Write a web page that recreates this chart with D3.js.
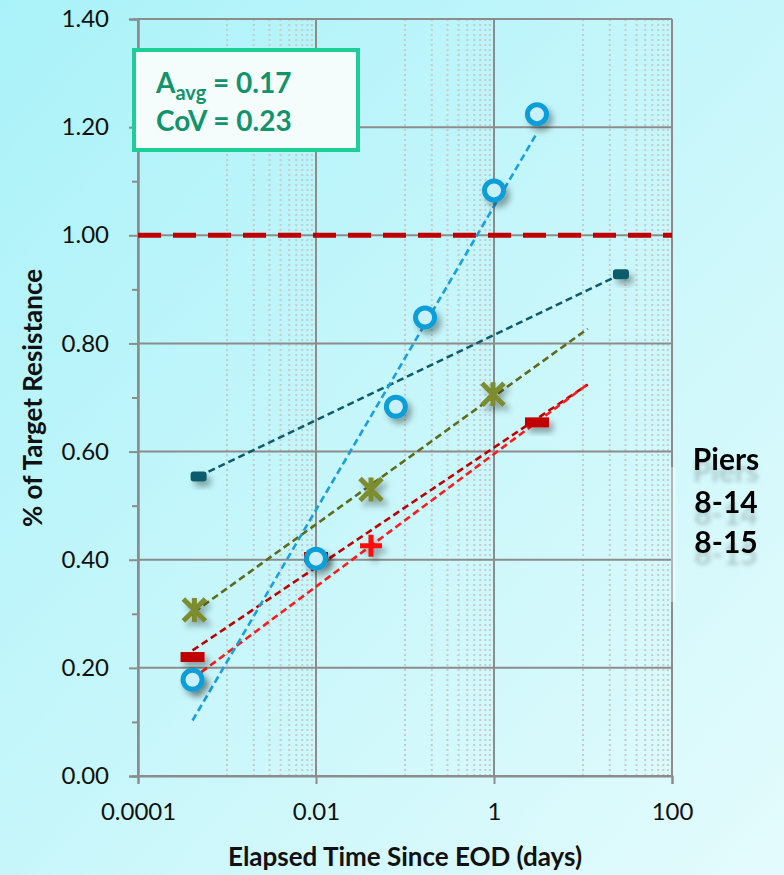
<!DOCTYPE html>
<html lang="en">
<head>
<meta charset="utf-8" />
<title>Target Resistance vs Elapsed Time</title>
<script src="https://cdn.jsdelivr.net/npm/d3@7/dist/d3.min.js"></script>
<style>
    html, body { margin: 0; padding: 0; }
    body { width: 784px; height: 875px; overflow: hidden; }
    svg text { font-family: Lato, "Open Sans", sans-serif; }
</style>
</head>
<body>
<script>
// data (x = days, y = fraction of target resistance)
var blueX = [0.00041, 0.01, 0.079, 0.168, 1, 3.04];
var blueY = [0.178, 0.402, 0.683, 0.848, 1.083, 1.224];
var tealX = [0.00048, 26.7];
var tealY = [0.554, 0.928];
var oliveX = [0.00043, 0.0415, 0.975];
var oliveY = [0.307, 0.530, 0.706];
var darkRedX = [0.00041, 0.01, 3.04];
var darkRedY = [0.220, 0.405, 0.654];
var plusX = [0.00041, 0.0415];
var plusY = [0.180, 0.426];
// how far each trend line runs to the right (days)
var trendEnd = { blue: 3.04, teal: 26.7, olive: 11.3, darkRed: 11.3, plus: 11.3 };

var targetLevel = 1.0;
var xTicks = [0.0001, 0.01, 1, 100];
var xTickLabels = ["0.0001", "0.01", "1", "100"];
var yTicks = [0, 0.2, 0.4, 0.6, 0.8, 1.0, 1.2, 1.4];
var yMinor = [0.1, 0.3, 0.5, 0.7, 0.9, 1.1, 1.3];
var pierLines = ["Piers", "8-14", "8-15"];

var w = 784, h = 875;
var x = d3.scaleLog().domain([0.0001, 100]).range([138, 672]);
var y = d3.scaleLinear().domain([0, 1.4]).range([776, 19]);

var series = [
    { key: "teal", xs: tealX, ys: tealY, color: "#0f5b69", trend: "#0f5b69", marker: "dashSmall" },
    { key: "olive", xs: oliveX, ys: oliveY, color: "#7b8c2e", trend: "#5d6b1c", marker: "star" },
    { key: "darkRed", xs: darkRedX, ys: darkRedY, color: "#c00000", trend: "#c00000", marker: "dash" },
    { key: "plus", xs: plusX, ys: plusY, color: "#ff0a0a", trend: "#ff1a1a", marker: "plus" },
    { key: "blue", xs: blueX, ys: blueY, color: "#0a9ed8", trend: "#1a9fe0", marker: "circle" }
];

var svg = d3.select("body").append("svg").attr("width", w).attr("height", h);
var defs = svg.append("defs");

var bg = defs.append("linearGradient").attr("id", "bg")
    .attr("x1", "0%").attr("y1", "0%").attr("x2", "100%").attr("y2", "100%");
bg.append("stop").attr("offset", "0%").attr("stop-color", "#aaf2f9");
bg.append("stop").attr("offset", "100%").attr("stop-color", "#e4fbfc");

var shadow = defs.append("filter").attr("id", "shadow")
    .attr("x", "-60%").attr("y", "-60%").attr("width", "240%").attr("height", "240%");
shadow.append("feDropShadow").attr("dx", 4).attr("dy", 5).attr("stdDeviation", 3)
    .attr("flood-color", "#000").attr("flood-opacity", 0.35);

// soft smudge under the piers text, like the reflection in the original
var glow = defs.append("filter").attr("id", "reflect")
    .attr("x", "-20%").attr("y", "-20%").attr("width", "140%").attr("height", "160%");
glow.append("feGaussianBlur").attr("in", "SourceAlpha").attr("stdDeviation", 2).attr("result", "b");
glow.append("feOffset").attr("in", "b").attr("dy", 12).attr("result", "o");
glow.append("feComponentTransfer").attr("in", "o").attr("result", "f")
    .append("feFuncA").attr("type", "linear").attr("slope", 0.2);
var gm = glow.append("feMerge");
gm.append("feMergeNode").attr("in", "f");
gm.append("feMergeNode").attr("in", "SourceGraphic");

svg.append("rect").attr("width", w).attr("height", h).attr("fill", "url(#bg)");

// minor vertical grid (Excel base-100 log axis: 10x..90x of each major)
var minorX = [];
[0.0001, 0.01, 1].forEach(function(m) {
    for (var k = 1; k <= 9; k++) minorX.push(m * 10 * k);
});
svg.append("g").selectAll("line")
    .data(minorX)
    .enter()
    .append("line")
    .attr("x1", function(d) { return x(d); })
    .attr("x2", function(d) { return x(d); })
    .attr("y1", y(1.4))
    .attr("y2", y(0))
    .attr("stroke", "#c4cccd")
    .attr("stroke-width", 2)
    .attr("stroke-dasharray", "2,3");

// major horizontal grid
svg.append("g").selectAll("line")
    .data(yTicks)
    .enter()
    .append("line")
    .attr("x1", x(0.0001))
    .attr("x2", x(100))
    .attr("y1", function(d) { return y(d); })
    .attr("y2", function(d) { return y(d); })
    .attr("stroke", "#8c8c8c")
    .attr("stroke-width", 2);

// major vertical grid
svg.append("g").selectAll("line")
    .data(xTicks)
    .enter()
    .append("line")
    .attr("x1", function(d) { return x(d); })
    .attr("x2", function(d) { return x(d); })
    .attr("y1", y(1.4))
    .attr("y2", y(0))
    .attr("stroke", "#8c8c8c")
    .attr("stroke-width", 2);

// axes
var yAxis = svg.append("g")
    .attr("transform", "translate(" + x(0.0001) + ",0)")
    .call(d3.axisLeft(y).tickValues(yTicks).tickFormat(d3.format(".2f")).tickSize(9).tickPadding(20));
var yAxisMinor = svg.append("g")
    .attr("transform", "translate(" + x(0.0001) + ",0)")
    .call(d3.axisLeft(y).tickValues(yMinor).tickFormat("").tickSize(6));
var xAxis = svg.append("g")
    .attr("transform", "translate(0," + y(0) + ")")
    .call(d3.axisBottom(x).tickValues(xTicks)
        .tickFormat(function(d, i) { return xTickLabels[i]; })
        .tickSize(8).tickPadding(19));

[yAxis, yAxisMinor, xAxis].forEach(function(g) {
    g.select(".domain").attr("stroke", "#8c8c8c").attr("stroke-width", 2);
    g.selectAll(".tick line").attr("stroke", "#8c8c8c").attr("stroke-width", 2);
    g.selectAll("text")
        .attr("font-family", "Lato, sans-serif")
        .attr("font-size", "24px")
        .attr("fill", "#111");
});

// target resistance line
svg.append("line")
    .attr("x1", x(0.0001))
    .attr("x2", x(100))
    .attr("y1", y(targetLevel))
    .attr("y2", y(targetLevel))
    .attr("stroke", "#c00000")
    .attr("stroke-width", 5)
    .attr("stroke-dasharray", "23,12");

// log-x least squares trend lines
function fit(xs, ys) {
    var lx = xs.map(function(v) { return Math.log10(v); });
    var mx = d3.mean(lx), my = d3.mean(ys);
    var sxy = 0, sxx = 0;
    lx.forEach(function(v, i) {
        sxy += (v - mx) * (ys[i] - my);
        sxx += (v - mx) * (v - mx);
    });
    var b = sxy / sxx;
    return function(v) { return my + b * (Math.log10(v) - mx); };
}

svg.append("g").selectAll("line")
    .data(series)
    .enter()
    .append("line")
    .each(function(s) {
        var f = fit(s.xs, s.ys);
        var x0 = d3.min(s.xs), x1 = trendEnd[s.key];
        d3.select(this)
            .attr("x1", x(x0)).attr("y1", y(f(x0)))
            .attr("x2", x(x1)).attr("y2", y(f(x1)));
    })
    .attr("stroke", function(s) { return s.trend; })
    .attr("stroke-width", 2.6)
    .attr("stroke-dasharray", "7,4");

// markers
function drawMarker(g, s) {
    if (s.marker === "circle") {
        g.append("circle").attr("r", 9.5)
            .attr("fill", "#c9f0fc").attr("stroke", s.color).attr("stroke-width", 5);
    } else if (s.marker === "dash") {
        g.append("rect").attr("x", -12).attr("y", -5).attr("width", 24).attr("height", 10)
            .attr("fill", s.color);
    } else if (s.marker === "dashSmall") {
        g.append("rect").attr("x", -8).attr("y", -5).attr("width", 16).attr("height", 10)
            .attr("rx", 3).attr("fill", s.color);
    } else if (s.marker === "plus") {
        g.append("path").attr("d", "M-11,0H11M0,-11V11")
            .attr("stroke", s.color).attr("stroke-width", 5);
    } else if (s.marker === "star") {
        g.append("path").attr("d", "M-11,-11L11,11M-11,11L11,-11M0,-12V12")
            .attr("stroke", s.color).attr("stroke-width", 5);
    }
}

series.forEach(function(s) {
    var pts = s.xs.map(function(v, i) { return [v, s.ys[i]]; });
    svg.append("g").selectAll("g")
        .data(pts)
        .enter()
        .append("g")
        .attr("transform", function(d) { return "translate(" + x(d[0]) + "," + y(d[1]) + ")"; })
        .attr("filter", "url(#shadow)")
        .each(function() { drawMarker(d3.select(this), s); });
});

// axis titles
svg.append("text")
    .attr("x", 405)
    .attr("y", 866)
    .attr("text-anchor", "middle")
    .attr("font-size", "26px")
    .attr("font-weight", "bold")
    .attr("fill", "#111")
    .text("Elapsed Time Since EOD (days)");

svg.append("text")
    .attr("transform", "translate(42,398) rotate(-90)")
    .attr("text-anchor", "middle")
    .attr("font-size", "26px")
    .attr("font-weight", "bold")
    .attr("fill", "#111")
    .text("% of Target Resistance");

// stats box
svg.append("rect")
    .attr("x", 134).attr("y", 50).attr("width", 224).attr("height", 100)
    .attr("fill", "#f4fcfc")
    .attr("stroke", "#1ccf97")
    .attr("stroke-width", 4);

var statText = svg.append("text")
    .attr("x", 156).attr("y", 93)
    .attr("font-size", "28px").attr("font-weight", "bold").attr("fill", "#13936a");
statText.append("tspan").text("A");
statText.append("tspan").attr("font-size", "20px").attr("dy", 7).text("avg");
statText.append("tspan").attr("dy", -7).text(" = 0.17");

svg.append("text")
    .attr("x", 156).attr("y", 131)
    .attr("font-size", "28px").attr("font-weight", "bold").attr("fill", "#13936a")
    .text("CoV = 0.23");

// piers label
svg.append("rect")
    .attr("x", 671).attr("y", 467).attr("width", 5).attr("height", 135)
    .attr("fill", "#ffffff").attr("opacity", 0.35);

var pierBase = [470, 513, 553];
pierLines.forEach(function(t, i) {
    svg.append("text")
        .attr("x", 726).attr("y", pierBase[i])
        .attr("text-anchor", "middle")
        .attr("font-size", "30px").attr("font-weight", "bold")
        .attr("fill", "#000")
        .attr("filter", "url(#reflect)")
        .text(t);
});
</script>
</body>
</html>
